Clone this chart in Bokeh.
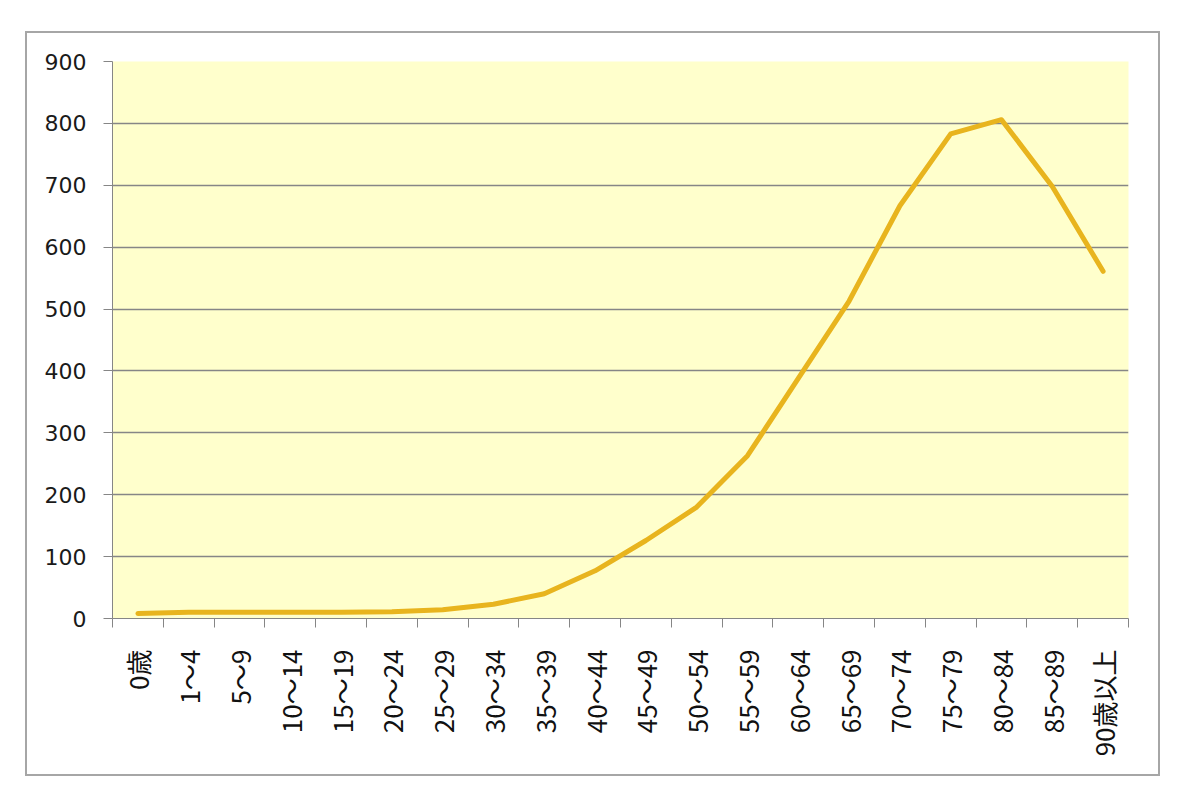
from bokeh.plotting import figure
from bokeh.models import Range1d, FixedTicker
from bokeh.embed import file_html
from bokeh.resources import INLINE
import math

categories = ["0歳", "1～4", "5～9", "10～14", "15～19", "20～24", "25～29", "30～34",
              "35～39", "40～44", "45～49", "50～54", "55～59", "60～64", "65～69",
              "70～74", "75～79", "80～84", "85～89", "90歳以上"]
values = [8, 10, 10, 10, 10, 11, 14, 23, 40, 77, 126, 180, 263, 388, 513,
          667, 783, 806, 698, 561]
y_ticks = [0, 100, 200, 300, 400, 500, 600, 700, 800, 900]

n = len(categories)
xs = [i + 0.5 for i in range(n)]

p = figure(width=1131, height=741, output_backend="svg", toolbar_location=None,
           x_range=Range1d(0, n), y_range=Range1d(0, 900),
           min_border_left=85, min_border_top=28, min_border_right=30, min_border_bottom=156,
           frame_width=1016, frame_height=557)
p.margin = (31, 0, 0, 25)
p.styles = {"border": "2px solid #a6a6a6", "box-sizing": "content-box"}

p.background_fill_color = "#FFFFCC"
p.border_fill_color = "white"
p.outline_line_color = None

p.line(xs, values, line_color="#E8B41E", line_width=5, line_join="round", line_cap="round")

# y axis
p.yaxis.ticker = FixedTicker(ticks=y_ticks)
p.yaxis.major_label_text_font = "DejaVu Sans"
p.yaxis.major_label_text_font_size = "22px"
p.yaxis.major_label_text_color = "#1a1a1a"
p.yaxis.axis_line_color = "#868686"
p.yaxis.major_tick_line_color = "#868686"
p.yaxis.major_tick_out = 9
p.yaxis.major_tick_in = 0
p.yaxis.minor_tick_line_color = None
p.yaxis.major_label_standoff = 17

p.ygrid.ticker = FixedTicker(ticks=y_ticks)
p.ygrid.grid_line_color = "#868686"
p.ygrid.grid_line_width = 1.5
p.xgrid.grid_line_color = None

# x axis
p.xaxis.ticker = FixedTicker(ticks=xs, minor_ticks=list(range(n + 1)))
p.xaxis.major_label_overrides = {x: c for x, c in zip(xs, categories)}
p.xaxis.major_label_orientation = math.pi / 2
p.xaxis.major_label_text_font = "Noto Sans CJK JP"
p.xaxis.major_label_text_font_size = "26px"
p.xaxis.major_label_text_color = "#111111"
p.xaxis.axis_line_color = "#868686"
p.xaxis.major_tick_line_color = None
p.xaxis.major_tick_out = 0
p.xaxis.major_tick_in = 0
p.xaxis.minor_tick_line_color = "#868686"
p.xaxis.minor_tick_out = 9
p.xaxis.minor_tick_in = 0
p.xaxis.major_label_standoff = 22

open("out.html", "w").write(file_html(p, INLINE))
